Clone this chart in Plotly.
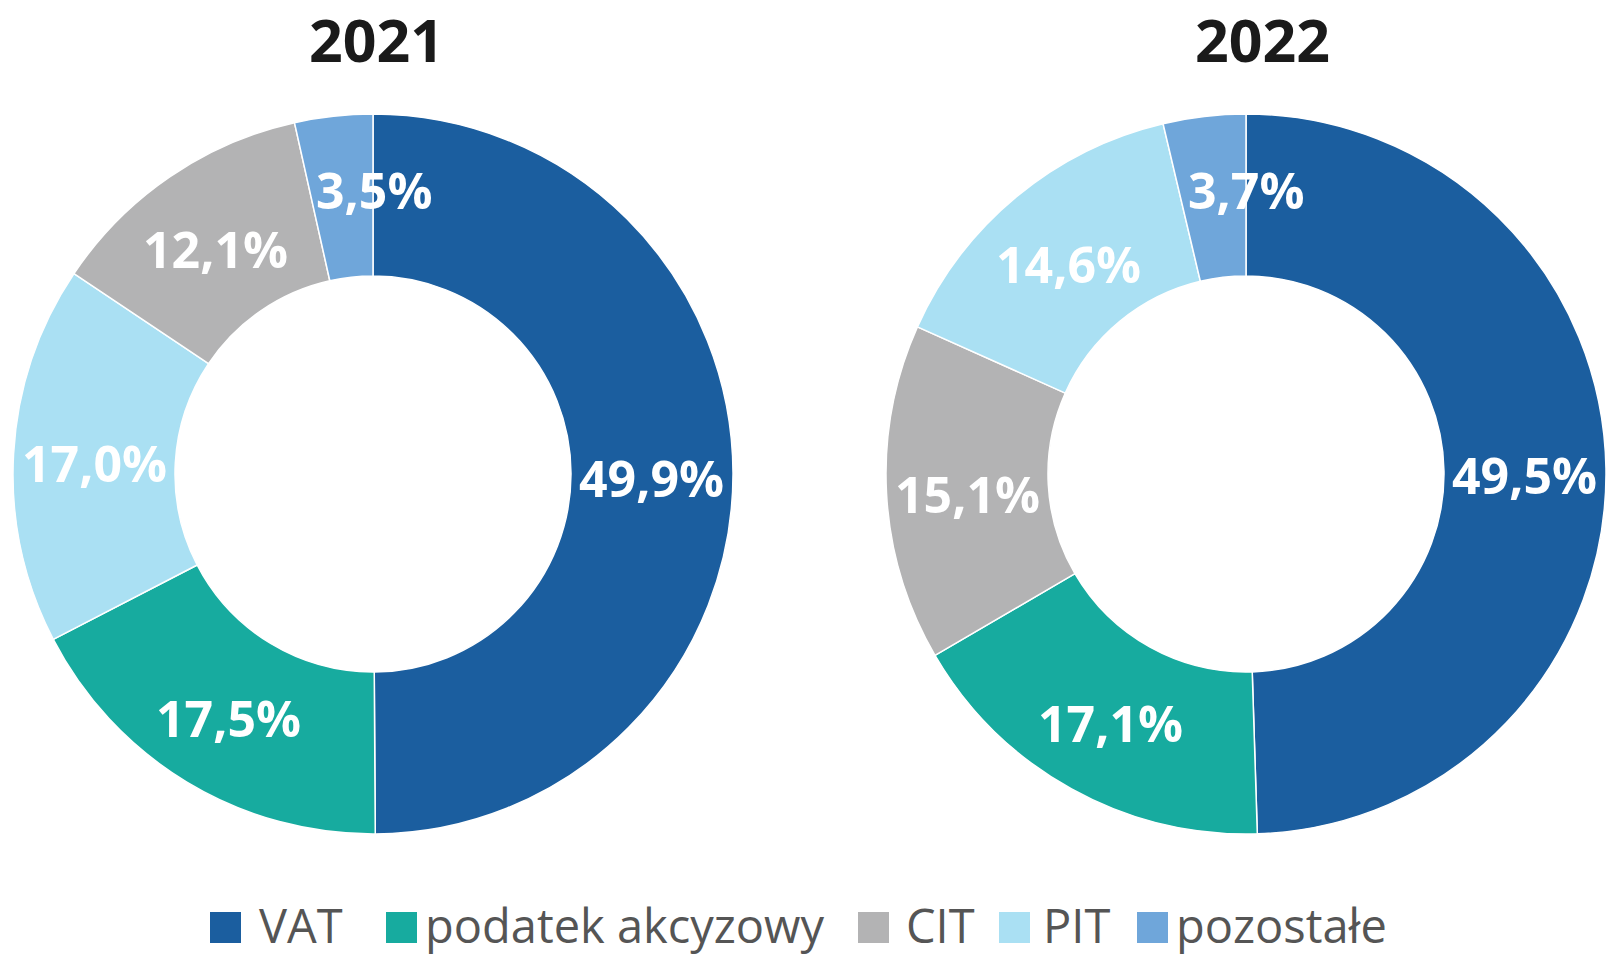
import math
import plotly.graph_objects as go

W, H = 1606, 956

# data
years = ["2021", "2022"]
labels_2021 = ["VAT", "podatek akcyzowy", "PIT", "CIT", "pozostałe"]
values_2021 = [49.9, 17.5, 17.0, 12.1, 3.5]
labels_2022 = ["VAT", "podatek akcyzowy", "CIT", "PIT", "pozostałe"]
values_2022 = [49.5, 17.1, 15.1, 14.6, 3.7]
legend_order = ["VAT", "podatek akcyzowy", "CIT", "PIT", "pozostałe"]

colors = {
    "VAT": "#1b5e9f",
    "podatek akcyzowy": "#17ab9f",
    "CIT": "#b3b3b4",
    "PIT": "#aae0f3",
    "pozostałe": "#6fa6da",
}

HOLE = 0.55
RADIUS = 360
centers = [(373, 474), (1246, 474)]
title_x = [376, 1262]


def px(x):
    return x / W


def py(y):
    return 1 - y / H


fig = go.Figure()
annotations = []

for (cx, cy), year, labels, values, tx in zip(
    centers, years, [labels_2021, labels_2022], [values_2021, values_2022], title_x
):
    fig.add_trace(go.Pie(
        labels=labels, values=values,
        hole=HOLE, sort=False, direction="clockwise", rotation=0,
        marker=dict(colors=[colors[l] for l in labels], line=dict(color="white", width=1.5)),
        textinfo="none", hoverinfo="label+percent", showlegend=False,
        domain=dict(x=[px(cx - RADIUS), px(cx + RADIUS)], y=[py(cy + RADIUS), py(cy - RADIUS)]),
    ))

    # percentage labels at slice middles, in the ring
    total = sum(values)
    cum = 0
    r_lab = RADIUS * (1 + HOLE) / 2
    for v in values:
        mid = (cum + v / 2) / total * 2 * math.pi
        cum += v
        lx = cx + r_lab * math.sin(mid)
        ly = cy - r_lab * math.cos(mid)
        small = v / total < 0.06
        annotations.append(dict(
            x=px(lx), y=py(ly), xref="paper", yref="paper",
            text=f"{v:.1f}".replace(".", ",") + "%",
            showarrow=False, xanchor="center", yanchor="middle",
            xshift=32 if small else 0, yshift=7 if small else -5,
            font=dict(family="Open Sans", size=50, color="white", weight="bold"),
        ))

    annotations.append(dict(
        x=px(tx), y=py(39), xref="paper", yref="paper", text=f"<b>{year}</b>",
        showarrow=False, xanchor="center", yanchor="middle",
        font=dict(family="Open Sans", size=59, color="#1a1a1a"),
    ))

# legend drawn by hand so the swatches can be as large as in the original
legend_sq_x = [210, 386, 858, 999, 1137]
legend_tx_x = [257, 423, 904, 1041, 1174]
shapes = []
for name, sx, tx in zip(legend_order, legend_sq_x, legend_tx_x):
    shapes.append(dict(
        type="rect", xref="paper", yref="paper",
        x0=px(sx), x1=px(sx + 31), y0=py(943), y1=py(912),
        fillcolor=colors[name], line=dict(width=0),
    ))
    annotations.append(dict(
        x=px(tx), y=py(925), xref="paper", yref="paper", text=name,
        showarrow=False, xanchor="left", yanchor="middle",
        font=dict(family="Open Sans", size=47, color="#555555"),
    ))

fig.update_layout(
    width=W, height=H,
    margin=dict(l=0, r=0, t=0, b=0),
    paper_bgcolor="white",
    plot_bgcolor="white",
    annotations=annotations,
    shapes=shapes,
    showlegend=False,
)

# the page body has a default 8px margin; drop it so the figure fills the window
fig.write_html(
    "out.html",
    config={"displayModeBar": False},
    post_script="document.body.style.margin='0';",
)
